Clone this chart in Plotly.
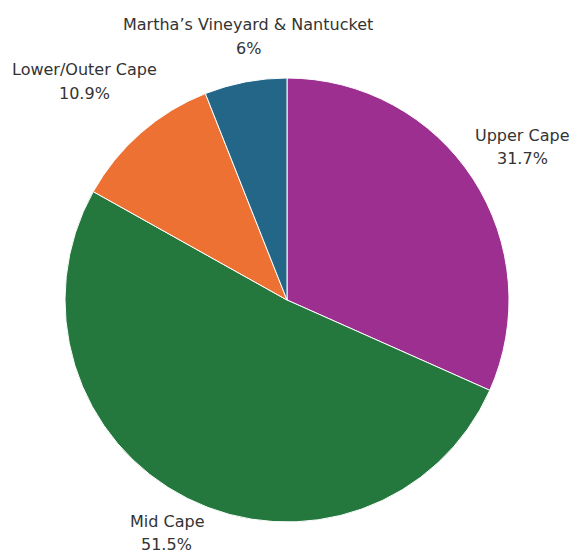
import math
import plotly.graph_objects as go

labels = ["Upper Cape", "Mid Cape", "Lower/Outer Cape", "Martha\u2019s Vineyard & Nantucket"]
shares = [31.7, 51.5, 10.9, 6]
colors = ["#9d2f91", "#24773d", "#ec7133", "#246688"]

W, H = 577, 555
OFF = 8                             # page offset of the figure inside the browser window
CX, CY, R = 287 - OFF, 300 - OFF, 222   # pie centre and radius in figure pixels
LABEL_K = 1.2                       # label distance as a multiple of the radius
LINE_GAP = 23.5                     # distance between the two lines of a label (px)
nudges = [(12, -8), (-1, -5), (-27, -18), (11, -2)]   # per-label fine placement (px)

fig = go.Figure(go.Pie(
    labels=labels,
    values=shares,
    textinfo="none",
    sort=False,
    direction="clockwise",
    rotation=0,
    marker=dict(colors=colors, line=dict(color="white", width=1)),
    showlegend=False,
    hoverinfo="label+percent",
    domain=dict(x=[(CX - R) / W, (CX + R) / W], y=[1 - (CY + R) / H, 1 - (CY - R) / H]),
))

font = dict(family="DejaVu Sans", size=16, color="#333333")
total = sum(shares)
cum = 0
for lab, v, (nx, ny) in zip(labels, shares, nudges):
    mid = (cum + v / 2) / total * 2 * math.pi
    cum += v
    px = CX + LABEL_K * R * math.sin(mid) + nx
    py = CY - LABEL_K * R * math.cos(mid) + ny
    for txt, dy in ((lab, -LINE_GAP / 2), (f"{v:g}%", LINE_GAP / 2)):
        fig.add_annotation(
            x=px / W, y=1 - (py + dy) / H, xref="paper", yref="paper",
            text=txt, showarrow=False,
            xanchor="center", yanchor="middle", align="center",
            font=font,
        )

fig.update_layout(
    width=W, height=H,
    margin=dict(l=0, r=0, t=0, b=0),
    paper_bgcolor="white",
    plot_bgcolor="white",
)
fig.write_html("out.html")
